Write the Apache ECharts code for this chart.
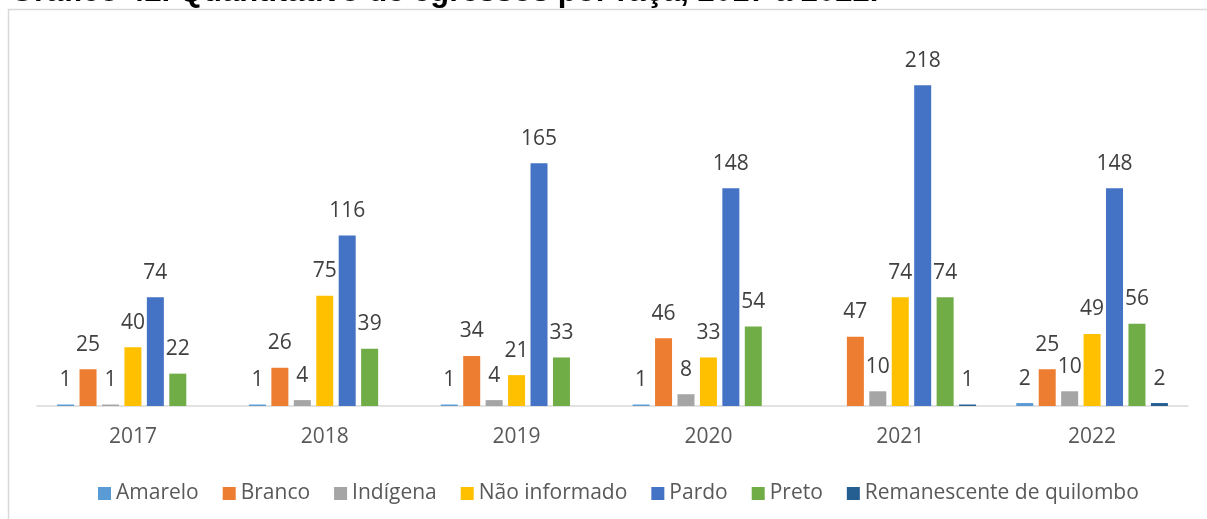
<!DOCTYPE html>
<html>
<head>
<meta charset="utf-8">
<style>
  html, body { margin: 0; padding: 0; background: #fff; }
  #chart { width: 1207px; height: 519px; }
</style>
<script src="https://cdn.jsdelivr.net/npm/echarts@6/dist/echarts.min.js"></script>
</head>
<body>
<div id="chart"></div>
<script>
// anos
var years = ['2017', '2018', '2019', '2020', '2021', '2022']

// quantitativo por raça (null = sem valor no gráfico)
var amarelo = [1, 1, 1, 1, null, 2]
var branco = [25, 26, 34, 46, 47, 25]
var indigena = [1, 4, 4, 8, 10, 10]
var naoInformado = [40, 75, 21, 33, 74, 49]
var pardo = [74, 116, 165, 148, 218, 148]
var preto = [22, 39, 33, 54, 74, 56]
var remanescente = [null, null, null, null, 1, 2]

var seriesNames = ['Amarelo', 'Branco', 'Indígena', 'Não informado', 'Pardo', 'Preto', 'Remanescente de quilombo']
var seriesData = [amarelo, branco, indigena, naoInformado, pardo, preto, remanescente]
var colors = ['#5B9BD5', '#ED7D31', '#A5A5A5', '#FFC000', '#4472C4', '#70AD47', '#255E91']

var font = '"Open Sans", "Noto Sans", sans-serif'

var labelOption = {
  show: true,
  position: 'top',
  distance: 14,
  color: '#404040',
  fontSize: 21,
  fontFamily: font
}

var chart = echarts.init(document.getElementById('chart'))

chart.setOption({
  animation: false,
  color: colors,
  graphic: [
    {
      type: 'rect',
      shape: { x: 8.5, y: 9.5, width: 1210, height: 530 },
      style: { fill: 'none', stroke: '#D9D9D9', lineWidth: 1.5 },
      z: -1
    },
    {
      // titulo cortado no topo da imagem
      type: 'text',
      x: 10,
      y: -23,
      style: {
        text: 'Gráfico 42. Quantitativo de egressos por raça, 2017 a 2022.',
        font: 'bold 31px "Liberation Sans"',
        fill: '#000'
      }
    }
  ],
  legend: {
    data: seriesNames,
    left: 93,
    top: 478,
    itemWidth: 13,
    itemHeight: 13,
    itemGap: 24,
    icon: 'rect',
    textStyle: { color: '#595959', fontSize: 21, fontFamily: font }
  },
  grid: {
    left: 37,
    right: 19,
    top: 53,
    bottom: 113,
    containLabel: false
  },
  xAxis: {
    type: 'category',
    data: years,
    axisTick: { show: false },
    axisLine: { lineStyle: { color: '#D9D9D9', width: 1.5 } },
    axisLabel: { color: '#595959', fontSize: 21, fontFamily: font, margin: 21 }
  },
  yAxis: {
    type: 'value',
    min: 0,
    max: 240,
    show: false,
    splitLine: { show: false }
  },
  series: seriesNames.map(function(name, i) {
    return {
      name: name,
      type: 'bar',
      barWidth: 17,
      barGap: '32%',
      label: labelOption,
      data: seriesData[i]
    }
  })
})
</script>
</body>
</html>
